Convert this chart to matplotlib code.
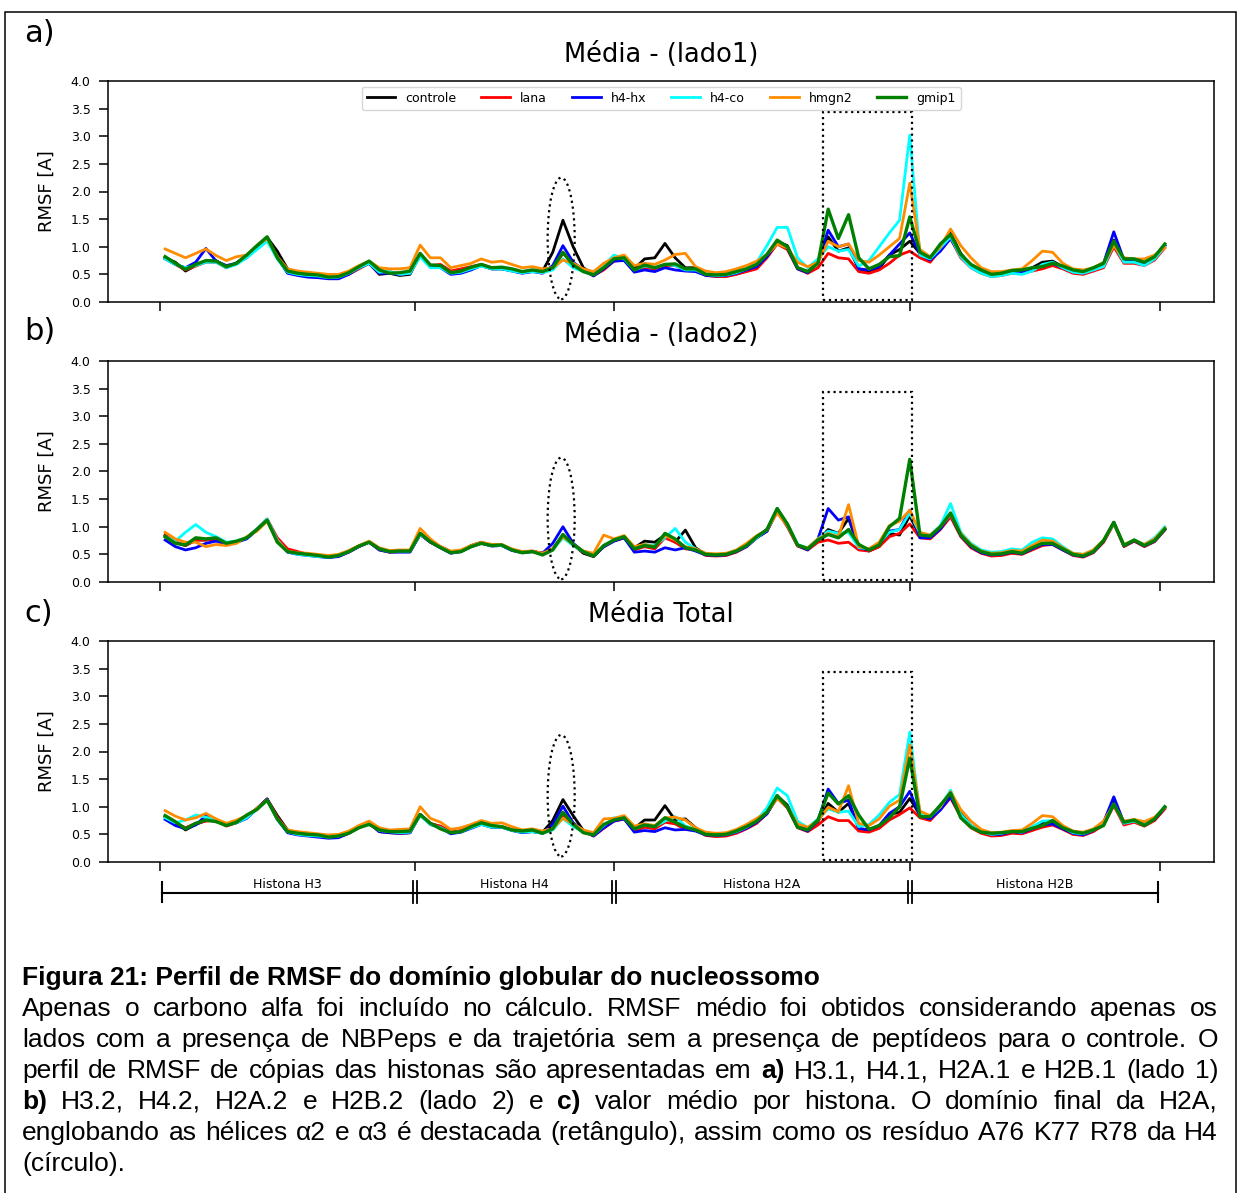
import numpy as np
import matplotlib
matplotlib.use('Agg')
import matplotlib.pyplot as plt
from matplotlib.patches import Rectangle, Ellipse

# residue index along the concatenated globular domains (H3, H4, H2A, H2B)
residuo = np.arange(2, 395, 4)

limites = [0, 100, 178, 294, 392]
histonas = ['Histona H3', 'Histona H4', 'Histona H2A', 'Histona H2B']
nomes = ['controle', 'lana', 'h4-hx', 'h4-co', 'hmgn2', 'gmip1']
cores = ['black', 'red', 'blue', 'cyan', 'darkorange', 'green']

# ---------------- lado 1 ----------------
controle_l1 = [0.80, 0.72, 0.56, 0.66, 0.74, 0.75, 0.62, 0.71, 0.84, 1.00,
               1.17, 0.92, 0.60, 0.52, 0.49, 0.48, 0.45, 0.45, 0.52, 0.62,
               0.70, 0.50, 0.52, 0.48, 0.50, 0.85, 0.66, 0.64, 0.52, 0.55,
               0.60, 0.66, 0.60, 0.60, 0.57, 0.53, 0.55, 0.56, 0.90, 1.48,
               1.00, 0.62, 0.50, 0.60, 0.76, 0.78, 0.60, 0.78, 0.80, 1.06,
               0.80, 0.62, 0.62, 0.50, 0.48, 0.48, 0.53, 0.58, 0.66, 0.85,
               1.10, 1.02, 0.62, 0.55, 0.72, 1.18, 0.92, 0.98, 0.60, 0.55,
               0.60, 0.85, 0.95, 1.10, 0.88, 0.78, 1.02, 1.25, 0.88, 0.66,
               0.56, 0.50, 0.52, 0.55, 0.56, 0.62, 0.72, 0.74, 0.64, 0.56,
               0.53, 0.60, 0.68, 1.12, 0.75, 0.76, 0.70, 0.80, 1.02]
lana_l1 = [0.80, 0.68, 0.58, 0.65, 0.72, 0.72, 0.62, 0.70, 0.82, 0.98,
           1.15, 0.82, 0.55, 0.50, 0.48, 0.47, 0.44, 0.44, 0.50, 0.60,
           0.70, 0.52, 0.55, 0.50, 0.52, 0.84, 0.66, 0.68, 0.56, 0.60,
           0.64, 0.68, 0.62, 0.62, 0.58, 0.54, 0.56, 0.54, 0.60, 0.88,
           0.70, 0.58, 0.48, 0.58, 0.74, 0.76, 0.55, 0.62, 0.60, 0.65,
           0.66, 0.58, 0.58, 0.48, 0.46, 0.46, 0.50, 0.55, 0.60, 0.80,
           1.05, 0.95, 0.60, 0.52, 0.62, 0.88, 0.80, 0.78, 0.55, 0.52,
           0.58, 0.70, 0.85, 0.92, 0.80, 0.72, 0.95, 1.15, 0.80, 0.62,
           0.52, 0.46, 0.48, 0.52, 0.52, 0.56, 0.60, 0.66, 0.60, 0.52,
           0.50, 0.56, 0.62, 1.00, 0.70, 0.70, 0.66, 0.76, 0.98]
h4hx_l1 = [0.78, 0.68, 0.62, 0.72, 0.97, 0.74, 0.66, 0.70, 0.80, 0.98,
           1.16, 0.80, 0.52, 0.48, 0.45, 0.44, 0.42, 0.42, 0.50, 0.62,
           0.70, 0.52, 0.52, 0.50, 0.52, 0.86, 0.64, 0.62, 0.50, 0.52,
           0.58, 0.66, 0.60, 0.60, 0.56, 0.52, 0.55, 0.52, 0.66, 1.02,
           0.72, 0.58, 0.47, 0.60, 0.74, 0.75, 0.54, 0.58, 0.55, 0.62,
           0.58, 0.56, 0.55, 0.48, 0.47, 0.48, 0.52, 0.58, 0.64, 0.82,
           1.08, 0.98, 0.60, 0.53, 0.72, 1.30, 1.00, 1.05, 0.60, 0.58,
           0.64, 0.85, 1.05, 1.25, 0.86, 0.76, 0.92, 1.15, 0.84, 0.66,
           0.56, 0.50, 0.50, 0.55, 0.55, 0.60, 0.66, 0.70, 0.62, 0.55,
           0.52, 0.60, 0.70, 1.27, 0.76, 0.76, 0.70, 0.80, 1.02]
h4co_l1 = [0.78, 0.68, 0.62, 0.66, 0.72, 0.72, 0.62, 0.68, 0.80, 0.95,
           1.10, 0.78, 0.54, 0.50, 0.48, 0.47, 0.44, 0.45, 0.52, 0.62,
           0.70, 0.54, 0.55, 0.50, 0.52, 0.82, 0.62, 0.62, 0.52, 0.54,
           0.60, 0.65, 0.60, 0.60, 0.56, 0.53, 0.55, 0.53, 0.58, 0.78,
           0.62, 0.55, 0.50, 0.66, 0.85, 0.78, 0.58, 0.65, 0.62, 0.68,
           0.66, 0.58, 0.58, 0.50, 0.48, 0.49, 0.53, 0.60, 0.72, 1.02,
           1.35, 1.35, 0.80, 0.62, 0.78, 1.00, 0.92, 0.95, 0.65, 0.75,
           1.00, 1.25, 1.48, 3.02, 0.85, 0.78, 0.98, 1.18, 0.82, 0.62,
           0.52, 0.46, 0.48, 0.52, 0.50, 0.56, 0.68, 0.72, 0.62, 0.54,
           0.52, 0.58, 0.64, 1.05, 0.72, 0.72, 0.66, 0.78, 1.00]
hmgn2_l1 = [0.96, 0.88, 0.80, 0.88, 0.96, 0.84, 0.75, 0.82, 0.85, 1.02,
            1.15, 0.82, 0.60, 0.56, 0.54, 0.52, 0.50, 0.50, 0.56, 0.66,
            0.74, 0.62, 0.60, 0.60, 0.62, 1.03, 0.80, 0.80, 0.62, 0.66,
            0.70, 0.78, 0.72, 0.74, 0.68, 0.62, 0.64, 0.60, 0.62, 0.76,
            0.70, 0.60, 0.55, 0.70, 0.80, 0.85, 0.66, 0.70, 0.68, 0.76,
            0.86, 0.88, 0.64, 0.56, 0.53, 0.55, 0.60, 0.66, 0.74, 0.86,
            1.05, 0.98, 0.72, 0.64, 0.72, 1.10, 1.00, 1.05, 0.75, 0.72,
            0.85, 1.00, 1.15, 2.15, 0.95, 0.82, 1.00, 1.32, 1.02, 0.80,
            0.62, 0.55, 0.55, 0.58, 0.60, 0.75, 0.92, 0.90, 0.70, 0.60,
            0.58, 0.62, 0.72, 1.02, 0.80, 0.78, 0.78, 0.85, 0.98]
gmip1_l1 = [0.82, 0.70, 0.59, 0.68, 0.75, 0.74, 0.64, 0.70, 0.85, 1.02,
            1.18, 0.80, 0.56, 0.52, 0.50, 0.49, 0.45, 0.46, 0.53, 0.64,
            0.74, 0.58, 0.52, 0.53, 0.56, 0.88, 0.67, 0.66, 0.53, 0.56,
            0.63, 0.68, 0.62, 0.63, 0.60, 0.55, 0.58, 0.55, 0.62, 0.90,
            0.67, 0.55, 0.49, 0.62, 0.78, 0.80, 0.58, 0.67, 0.62, 0.68,
            0.69, 0.60, 0.60, 0.50, 0.49, 0.50, 0.55, 0.60, 0.68, 0.86,
            1.12, 1.00, 0.62, 0.55, 0.70, 1.68, 1.15, 1.58, 0.80, 0.60,
            0.68, 0.82, 0.84, 1.54, 0.90, 0.80, 1.05, 1.22, 0.86, 0.68,
            0.58, 0.50, 0.52, 0.57, 0.58, 0.62, 0.64, 0.70, 0.65, 0.58,
            0.55, 0.62, 0.70, 1.10, 0.78, 0.78, 0.72, 0.82, 1.05]

# ---------------- lado 2 ----------------
controle_l2 = [0.85, 0.72, 0.66, 0.76, 0.76, 0.78, 0.70, 0.72, 0.80, 0.95,
               1.12, 0.76, 0.56, 0.52, 0.50, 0.48, 0.45, 0.47, 0.55, 0.65,
               0.72, 0.60, 0.55, 0.55, 0.55, 0.88, 0.74, 0.64, 0.55, 0.56,
               0.66, 0.72, 0.66, 0.66, 0.58, 0.54, 0.55, 0.52, 0.60, 0.85,
               0.68, 0.52, 0.46, 0.64, 0.75, 0.80, 0.62, 0.74, 0.72, 0.85,
               0.72, 0.94, 0.62, 0.50, 0.49, 0.50, 0.56, 0.66, 0.80, 0.92,
               1.30, 1.05, 0.66, 0.60, 0.74, 0.95, 0.88, 1.15, 0.62, 0.56,
               0.64, 0.88, 0.85, 1.20, 0.82, 0.80, 0.98, 1.22, 0.88, 0.66,
               0.54, 0.48, 0.50, 0.53, 0.52, 0.62, 0.70, 0.70, 0.60, 0.50,
               0.47, 0.55, 0.74, 1.08, 0.66, 0.74, 0.66, 0.74, 0.95]
lana_l2 = [0.84, 0.72, 0.66, 0.76, 0.76, 0.78, 0.68, 0.72, 0.80, 0.96,
           1.14, 0.80, 0.60, 0.55, 0.50, 0.47, 0.45, 0.47, 0.54, 0.64,
           0.72, 0.58, 0.54, 0.55, 0.55, 0.86, 0.72, 0.62, 0.53, 0.55,
           0.64, 0.70, 0.66, 0.66, 0.58, 0.55, 0.56, 0.52, 0.60, 0.82,
           0.68, 0.54, 0.47, 0.64, 0.74, 0.80, 0.58, 0.64, 0.60, 0.80,
           0.72, 0.60, 0.58, 0.48, 0.47, 0.48, 0.54, 0.64, 0.80, 0.95,
           1.28, 1.00, 0.65, 0.58, 0.72, 0.76, 0.70, 0.72, 0.58, 0.56,
           0.64, 0.82, 0.88, 1.05, 0.80, 0.78, 0.95, 1.18, 0.82, 0.62,
           0.52, 0.47, 0.48, 0.52, 0.50, 0.58, 0.66, 0.68, 0.58, 0.48,
           0.45, 0.53, 0.72, 1.05, 0.64, 0.74, 0.64, 0.73, 0.94]
h4hx_l2 = [0.76, 0.64, 0.58, 0.62, 0.70, 0.74, 0.68, 0.72, 0.78, 0.94,
           1.12, 0.74, 0.54, 0.50, 0.48, 0.46, 0.44, 0.46, 0.54, 0.64,
           0.72, 0.58, 0.54, 0.54, 0.54, 0.86, 0.72, 0.62, 0.52, 0.55,
           0.64, 0.70, 0.65, 0.66, 0.57, 0.53, 0.55, 0.52, 0.70, 1.00,
           0.70, 0.55, 0.47, 0.64, 0.74, 0.80, 0.54, 0.56, 0.54, 0.62,
           0.58, 0.62, 0.56, 0.49, 0.48, 0.49, 0.55, 0.64, 0.80, 0.92,
           1.28, 1.02, 0.66, 0.58, 0.78, 1.33, 1.12, 1.18, 0.62, 0.58,
           0.68, 0.92, 0.95, 1.30, 0.80, 0.80, 0.96, 1.22, 0.84, 0.64,
           0.53, 0.49, 0.50, 0.54, 0.51, 0.60, 0.68, 0.68, 0.58, 0.49,
           0.46, 0.54, 0.74, 1.08, 0.65, 0.75, 0.65, 0.74, 0.95]
h4co_l2 = [0.82, 0.74, 0.90, 1.04, 0.90, 0.82, 0.72, 0.74, 0.80, 0.96,
           1.14, 0.76, 0.55, 0.50, 0.48, 0.46, 0.45, 0.48, 0.55, 0.65,
           0.72, 0.60, 0.55, 0.56, 0.56, 0.86, 0.74, 0.62, 0.54, 0.55,
           0.64, 0.70, 0.66, 0.66, 0.58, 0.54, 0.55, 0.50, 0.58, 0.80,
           0.66, 0.55, 0.48, 0.66, 0.76, 0.82, 0.62, 0.68, 0.66, 0.80,
           0.97, 0.72, 0.60, 0.51, 0.50, 0.51, 0.57, 0.66, 0.80, 0.95,
           1.33, 1.05, 0.68, 0.62, 0.78, 0.92, 0.88, 0.90, 0.62, 0.60,
           0.70, 0.90, 0.95, 1.25, 0.88, 0.85, 1.02, 1.42, 0.90, 0.70,
           0.58, 0.54, 0.55, 0.60, 0.58, 0.72, 0.80, 0.78, 0.64, 0.52,
           0.50, 0.58, 0.76, 1.05, 0.68, 0.76, 0.68, 0.80, 1.00]
hmgn2_l2 = [0.90, 0.78, 0.72, 0.72, 0.64, 0.68, 0.66, 0.70, 0.82, 0.92,
            1.10, 0.74, 0.56, 0.53, 0.52, 0.50, 0.48, 0.50, 0.57, 0.66,
            0.74, 0.62, 0.57, 0.58, 0.58, 0.97, 0.78, 0.64, 0.56, 0.58,
            0.66, 0.72, 0.68, 0.68, 0.60, 0.55, 0.56, 0.52, 0.60, 0.82,
            0.68, 0.56, 0.52, 0.85, 0.78, 0.84, 0.64, 0.68, 0.64, 0.84,
            0.76, 0.64, 0.60, 0.52, 0.51, 0.52, 0.58, 0.70, 0.84, 0.94,
            1.25, 1.02, 0.66, 0.62, 0.78, 0.88, 0.82, 1.40, 0.64, 0.60,
            0.72, 1.02, 1.10, 1.30, 0.90, 0.85, 1.00, 1.22, 0.88, 0.68,
            0.56, 0.52, 0.53, 0.57, 0.56, 0.66, 0.76, 0.74, 0.62, 0.52,
            0.50, 0.58, 0.76, 1.06, 0.68, 0.76, 0.68, 0.78, 0.98]
gmip1_l2 = [0.82, 0.70, 0.67, 0.80, 0.78, 0.80, 0.70, 0.74, 0.80, 0.95,
            1.12, 0.72, 0.55, 0.52, 0.50, 0.48, 0.45, 0.48, 0.55, 0.65,
            0.72, 0.60, 0.55, 0.56, 0.56, 0.88, 0.73, 0.62, 0.53, 0.55,
            0.64, 0.70, 0.66, 0.67, 0.58, 0.53, 0.55, 0.49, 0.58, 0.86,
            0.68, 0.55, 0.47, 0.66, 0.76, 0.82, 0.60, 0.66, 0.63, 0.88,
            0.78, 0.62, 0.58, 0.50, 0.49, 0.50, 0.56, 0.66, 0.82, 0.95,
            1.33, 1.05, 0.67, 0.60, 0.76, 0.86, 0.80, 0.95, 0.68, 0.58,
            0.67, 1.00, 1.15, 2.22, 0.85, 0.83, 1.00, 1.25, 0.85, 0.66,
            0.55, 0.50, 0.51, 0.55, 0.52, 0.62, 0.70, 0.70, 0.60, 0.50,
            0.47, 0.55, 0.75, 1.08, 0.66, 0.76, 0.66, 0.75, 0.96]

# ---------------- media total ----------------
controle_tot = [0.82, 0.72, 0.58, 0.68, 0.75, 0.76, 0.66, 0.72, 0.82, 0.97,
                1.14, 0.84, 0.58, 0.52, 0.50, 0.48, 0.45, 0.46, 0.53, 0.63,
                0.70, 0.55, 0.53, 0.52, 0.53, 0.86, 0.70, 0.64, 0.54, 0.56,
                0.63, 0.69, 0.63, 0.63, 0.58, 0.54, 0.55, 0.54, 0.75, 1.13,
                0.84, 0.57, 0.48, 0.62, 0.76, 0.79, 0.61, 0.76, 0.76, 1.02,
                0.76, 0.78, 0.62, 0.50, 0.48, 0.49, 0.55, 0.62, 0.73, 0.88,
                1.20, 1.03, 0.64, 0.58, 0.73, 1.06, 0.90, 1.06, 0.61, 0.56,
                0.62, 0.86, 0.90, 1.15, 0.85, 0.79, 1.00, 1.24, 0.88, 0.66,
                0.55, 0.49, 0.51, 0.54, 0.54, 0.62, 0.71, 0.72, 0.62, 0.53,
                0.50, 0.58, 0.71, 1.10, 0.70, 0.75, 0.68, 0.77, 0.98]
lana_tot = [0.82, 0.70, 0.62, 0.70, 0.74, 0.75, 0.65, 0.71, 0.81, 0.97,
            1.14, 0.81, 0.57, 0.52, 0.49, 0.47, 0.44, 0.45, 0.52, 0.62,
            0.71, 0.55, 0.54, 0.52, 0.53, 0.85, 0.69, 0.65, 0.54, 0.57,
            0.64, 0.69, 0.64, 0.64, 0.58, 0.54, 0.56, 0.53, 0.60, 0.85,
            0.69, 0.56, 0.47, 0.61, 0.74, 0.78, 0.56, 0.63, 0.60, 0.72,
            0.69, 0.59, 0.58, 0.48, 0.46, 0.47, 0.52, 0.60, 0.70, 0.88,
            1.16, 0.98, 0.62, 0.55, 0.67, 0.82, 0.75, 0.75, 0.56, 0.54,
            0.61, 0.76, 0.86, 0.98, 0.80, 0.75, 0.95, 1.16, 0.81, 0.62,
            0.52, 0.47, 0.48, 0.52, 0.51, 0.57, 0.63, 0.67, 0.59, 0.50,
            0.48, 0.55, 0.67, 1.02, 0.67, 0.72, 0.65, 0.75, 0.96]
h4hx_tot = [0.77, 0.66, 0.60, 0.67, 0.84, 0.74, 0.67, 0.71, 0.79, 0.96,
            1.14, 0.77, 0.53, 0.49, 0.47, 0.45, 0.43, 0.44, 0.52, 0.63,
            0.71, 0.55, 0.53, 0.52, 0.53, 0.86, 0.68, 0.62, 0.51, 0.54,
            0.61, 0.68, 0.63, 0.63, 0.57, 0.53, 0.55, 0.52, 0.68, 1.01,
            0.71, 0.57, 0.47, 0.62, 0.74, 0.78, 0.54, 0.57, 0.55, 0.62,
            0.58, 0.59, 0.56, 0.49, 0.48, 0.49, 0.54, 0.61, 0.72, 0.87,
            1.18, 1.00, 0.63, 0.56, 0.75, 1.32, 1.06, 1.12, 0.61, 0.58,
            0.66, 0.88, 1.00, 1.28, 0.83, 0.78, 0.94, 1.18, 0.84, 0.65,
            0.55, 0.50, 0.50, 0.55, 0.53, 0.60, 0.67, 0.69, 0.60, 0.52,
            0.49, 0.57, 0.72, 1.18, 0.71, 0.76, 0.68, 0.77, 0.98]
h4co_tot = [0.80, 0.71, 0.76, 0.85, 0.81, 0.77, 0.67, 0.71, 0.80, 0.96,
            1.12, 0.77, 0.55, 0.50, 0.48, 0.47, 0.45, 0.47, 0.54, 0.64,
            0.71, 0.57, 0.55, 0.53, 0.54, 0.84, 0.68, 0.62, 0.53, 0.55,
            0.62, 0.68, 0.63, 0.63, 0.57, 0.54, 0.55, 0.52, 0.58, 0.79,
            0.64, 0.55, 0.49, 0.66, 0.80, 0.80, 0.60, 0.67, 0.64, 0.74,
            0.82, 0.65, 0.59, 0.51, 0.49, 0.50, 0.55, 0.63, 0.76, 0.98,
            1.34, 1.20, 0.74, 0.62, 0.78, 0.96, 0.90, 0.92, 0.64, 0.68,
            0.85, 1.08, 1.22, 2.35, 0.86, 0.82, 1.00, 1.30, 0.86, 0.66,
            0.55, 0.50, 0.52, 0.56, 0.54, 0.64, 0.74, 0.75, 0.63, 0.53,
            0.51, 0.58, 0.70, 1.05, 0.70, 0.74, 0.67, 0.79, 1.00]
hmgn2_tot = [0.93, 0.83, 0.76, 0.80, 0.88, 0.78, 0.70, 0.76, 0.84, 0.97,
             1.12, 0.78, 0.58, 0.55, 0.53, 0.51, 0.49, 0.50, 0.56, 0.66,
             0.74, 0.62, 0.58, 0.59, 0.60, 1.00, 0.79, 0.72, 0.59, 0.62,
             0.68, 0.75, 0.70, 0.71, 0.64, 0.58, 0.60, 0.56, 0.61, 0.79,
             0.69, 0.58, 0.53, 0.78, 0.79, 0.84, 0.65, 0.69, 0.66, 0.80,
             0.81, 0.76, 0.62, 0.54, 0.52, 0.53, 0.59, 0.68, 0.79, 0.90,
             1.15, 1.00, 0.69, 0.63, 0.75, 0.99, 0.91, 1.38, 0.70, 0.66,
             0.78, 1.01, 1.12, 2.12, 0.92, 0.84, 1.00, 1.27, 0.95, 0.74,
             0.59, 0.53, 0.54, 0.57, 0.58, 0.70, 0.84, 0.82, 0.66, 0.56,
             0.54, 0.60, 0.74, 1.04, 0.74, 0.77, 0.73, 0.81, 0.98]
gmip1_tot = [0.84, 0.73, 0.60, 0.70, 0.76, 0.73, 0.66, 0.72, 0.85, 0.95,
             1.12, 0.78, 0.55, 0.52, 0.50, 0.49, 0.45, 0.47, 0.52, 0.62,
             0.68, 0.58, 0.55, 0.55, 0.56, 0.86, 0.70, 0.60, 0.53, 0.55,
             0.64, 0.71, 0.66, 0.64, 0.58, 0.56, 0.58, 0.52, 0.60, 0.90,
             0.68, 0.53, 0.49, 0.68, 0.76, 0.80, 0.60, 0.67, 0.64, 0.80,
             0.72, 0.63, 0.58, 0.50, 0.49, 0.50, 0.56, 0.64, 0.74, 0.90,
             1.20, 1.00, 0.63, 0.58, 0.76, 1.25, 1.05, 1.20, 0.85, 0.59,
             0.66, 0.80, 1.00, 1.88, 0.82, 0.82, 1.03, 1.25, 0.80, 0.63,
             0.54, 0.52, 0.53, 0.55, 0.55, 0.61, 0.66, 0.75, 0.62, 0.55,
             0.52, 0.58, 0.66, 1.05, 0.72, 0.76, 0.66, 0.78, 1.00]

legenda = [
    "**Figura 21: Perfil de RMSF do domínio globular do nucleossomo",
    "Apenas o carbono alfa foi incluído no cálculo. RMSF médio foi obtidos considerando apenas os",
    "lados com a presença de NBPeps e da trajetória sem a presença de peptídeos para o controle. O",
    "perfil de RMSF de cópias das histonas são apresentadas em **a)** H3.1, H4.1, H2A.1 e H2B.1 (lado 1)",
    "**b)** H3.2, H4.2, H2A.2 e H2B.2 (lado 2) e **c)** valor médio por histona. O domínio final da H2A,",
    "englobando as hélices α2 e  α3 é destacada (retângulo), assim como os resíduo A76 K77 R78 da H4",
    "(círculo).",
]

W, H = 1241, 1193
def fx(px):
    return px / W
def fy(py):
    return 1 - py / H

fig = plt.figure(figsize=(W / 100, H / 100), dpi=100)
xlim = (-20.4, 413.3)

paineis = [
    ('a)', 'Média - (lado1)', [controle_l1, lana_l1, h4hx_l1, h4co_l1, hmgn2_l1, gmip1_l1], 81, 33),
    ('b)', 'Média - (lado2)', [controle_l2, lana_l2, h4hx_l2, h4co_l2, hmgn2_l2, gmip1_l2], 361, 331),
    ('c)', 'Média Total', [controle_tot, lana_tot, h4hx_tot, h4co_tot, hmgn2_tot, gmip1_tot], 641, 613),
]

for k, (letra, titulo, series, topo, yletra) in enumerate(paineis):
    ax = fig.add_axes([fx(108), fy(topo + 221), fx(1214) - fx(108), 221 / H])
    for nome, cor, vals in zip(nomes, cores, series):
        assert len(vals) == len(residuo), (letra, nome, len(vals))
        ax.plot(residuo, vals, color=cor, lw=2.4 if nome == 'gmip1' else 2.0, label=nome)
    ax.set_xlim(*xlim)
    ax.set_ylim(0, 4)
    ax.set_yticks(np.arange(0, 4.01, 0.5))
    ax.set_yticklabels(['%.1f' % v for v in np.arange(0, 4.01, 0.5)])
    ax.set_xticks(limites)
    ax.set_xticklabels([])
    ax.tick_params(direction='out', length=6.5, width=1.1, labelsize=9, pad=6)
    for s in ax.spines.values():
        s.set_linewidth(1.1)
    # H2A final domain and H4 A76-R78
    ax.add_patch(Rectangle((260, 0.04), 35, 3.40, fill=False, ls=':', lw=1.6, ec='black', zorder=5))
    ax.add_patch(Ellipse((157.3, 1.15 if k < 2 else 1.2), 10.6, 2.2, fill=False, ls=':', lw=1.6,
                         ec='black', zorder=5))
    if k == 0:
        ax.legend(loc='upper center', ncol=6, fontsize=9, handlelength=2.3, columnspacing=2.0,
                  borderaxespad=0.45)
    fig.text(fx(47), fy(topo + 110), 'RMSF [A]', rotation=90, ha='center', va='center', fontsize=13)
    fig.text(fx(661), fy(topo - 26), titulo, ha='center', va='center', fontsize=18.5)
    fig.text(fx(24), fy(yletra), letra, ha='left', va='center', fontsize=22)

# histone ranges under the last panel
axb = fig.add_axes([fx(108), fy(915), fx(1214) - fx(108), 45 / H])
axb.set_xlim(*xlim)
axb.set_ylim(915, 870)
axb.axis('off')
axb.plot([limites[0] + 0.8, limites[-1] - 0.8], [893, 893], color='black', lw=1.5)
for b in [limites[0] + 0.8, limites[-1] - 0.8]:
    axb.plot([b, b], [882, 902], color='black', lw=1.5)
for b in limites[1:-1]:
    for d in (-0.7, 0.7):
        axb.plot([b + d, b + d], [881, 903], color='black', lw=1.3)
for i, nome in enumerate(histonas):
    axb.text((limites[i] + limites[i + 1]) / 2, 891.5, nome, ha='center', va='bottom', fontsize=9)

# outer frame
fig.patches.append(Rectangle((fx(5), fy(1200)), fx(1236) - fx(5), fy(12) - fy(1200),
                             transform=fig.transFigure, fill=False, ec='black', lw=1.1))

# caption, justified lines
renderer = fig.canvas.get_renderer()
x0, x1 = 22, 1218
for n, linha in enumerate(legenda):
    y = fy(978 + 31 * n)
    if n == 0 or n == len(legenda) - 1:
        peso = 'bold' if linha.startswith('**') else 'normal'
        fig.text(fx(x0), y, linha.replace('**', ''), fontsize=19, family='Liberation Sans',
                 fontweight=peso, ha='left', va='center')
        continue
    textos = []
    for w in linha.split():
        negrito = w.startswith('**')
        textos.append(fig.text(0, y, w.replace('**', ''), fontsize=19, family='Liberation Sans',
                               fontweight='bold' if negrito else 'normal', ha='left', va='center'))
    larg = [t.get_window_extent(renderer).width for t in textos]
    gap = (x1 - x0 - sum(larg)) / (len(textos) - 1)
    xp = x0
    for t, wd in zip(textos, larg):
        t.set_x(fx(xp))
        xp += wd + gap

fig.savefig('out.png', dpi=100)
